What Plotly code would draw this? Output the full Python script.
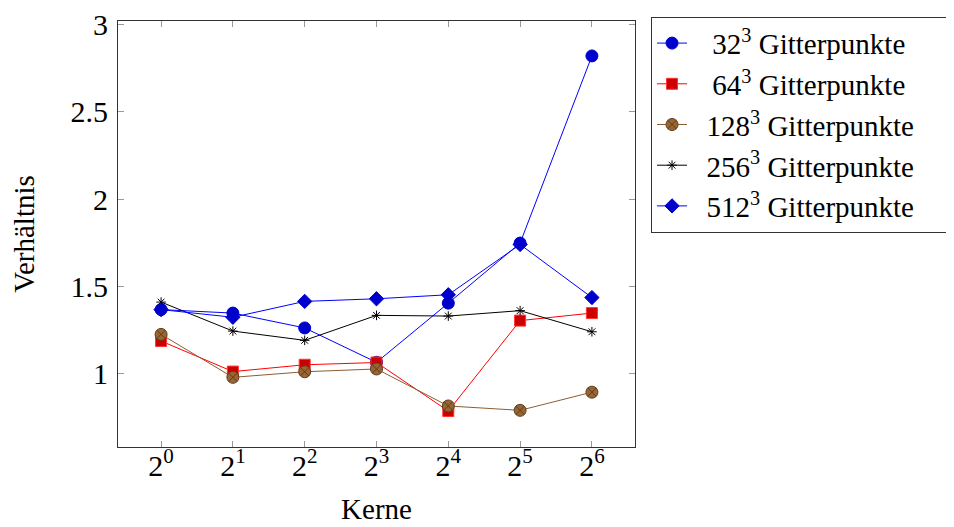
import plotly.graph_objects as go

kerne = [1, 2, 4, 8, 16, 32, 64]
tick_labels = ["2<sup>0</sup>", "2<sup>1</sup>", "2<sup>2</sup>", "2<sup>3</sup>",
               "2<sup>4</sup>", "2<sup>5</sup>", "2<sup>6</sup>"]

g32 = [1.367, 1.347, 1.262, 1.065, 1.404, 1.748, 2.82]
g64 = [1.187, 1.012, 1.051, 1.064, 0.786, 1.304, 1.347]
g128 = [1.225, 0.979, 1.011, 1.027, 0.815, 0.790, 0.894]
g256 = [1.410, 1.244, 1.191, 1.334, 1.330, 1.361, 1.240]
g512 = [1.367, 1.323, 1.414, 1.429, 1.452, 1.740, 1.436]

lead = "\u2002"
pad = "\u2003"
names = [lead + "\u200932<sup>3</sup> Gitterpunkte" + pad,
         lead + "\u200964<sup>3</sup> Gitterpunkte" + pad,
         lead + "128<sup>3</sup> Gitterpunkte" + pad,
         lead + "256<sup>3</sup> Gitterpunkte" + pad,
         lead + "512<sup>3</sup> Gitterpunkte" + pad]

font = "Liberation Serif"

fig = go.Figure()
fig.add_trace(go.Scatter(x=kerne, y=g32, name=names[0], mode="lines+markers",
                         line=dict(color="#0000FF", width=1),
                         marker=dict(symbol="circle", size=12, color="#0000CC",
                                     line=dict(color="#0000CC", width=1))))
fig.add_trace(go.Scatter(x=kerne, y=g64, name=names[1], mode="lines+markers",
                         line=dict(color="#FF0000", width=1),
                         marker=dict(symbol="square", size=11, color="#CC0000",
                                     line=dict(color="#FF3333", width=1))))
fig.add_trace(go.Scatter(x=kerne, y=g128, name=names[2], mode="lines+markers",
                         line=dict(color="#8B5E34", width=1),
                         marker=dict(symbol="circle-x", size=12, color="#996633",
                                     line=dict(color="#5C3D1E", width=1))))
fig.add_trace(go.Scatter(x=kerne, y=g256, name=names[3], mode="lines+markers",
                         line=dict(color="#000000", width=1),
                         marker=dict(symbol="asterisk-open", size=8, color="#000000",
                                     line=dict(color="#000000", width=1))))
fig.add_trace(go.Scatter(x=kerne, y=g512, name=names[4], mode="lines+markers",
                         line=dict(color="#0000FF", width=1),
                         marker=dict(symbol="diamond", size=11, color="#0000CC",
                                     line=dict(color="#0000CC", width=1))))

axis_common = dict(showgrid=False, zeroline=False, showline=True, linecolor="#333333",
                   linewidth=1, mirror="allticks", ticks="inside", ticklen=6,
                   tickcolor="#999999", automargin=False, ticklabeloverflow="allow",
                   tickfont=dict(family=font, size=30, color="#000000"))

fig.update_layout(
    width=954, height=527,
    margin=dict(l=110, r=327, t=9, b=88),
    paper_bgcolor="white", plot_bgcolor="white",
    font=dict(family=font, size=28, color="#000000"),
    xaxis=dict(type="log", range=[-0.1806, 1.9868], tickvals=kerne, ticktext=tick_labels,
               ticklabelstandoff=-8,
               title=dict(text="Kerne", font=dict(family=font, size=29), standoff=17),
               **axis_common),
    yaxis=dict(range=[0.58, 3.02], tickvals=[1, 1.5, 2, 2.5, 3],
               ticktext=["1", "1.5", "2", "2.5", "3"], ticklabelstandoff=3,
               title=dict(text="Verhältnis", font=dict(family=font, size=29), standoff=28),
               **axis_common),
    legend=dict(x=1.031, y=1.01, xanchor="left", yanchor="top",
                bordercolor="#333333", borderwidth=1, bgcolor="white",
                font=dict(family=font, size=29), tracegroupgap=0,
                itemwidth=30),
    showlegend=True,
)

fig.write_html("out.html")
